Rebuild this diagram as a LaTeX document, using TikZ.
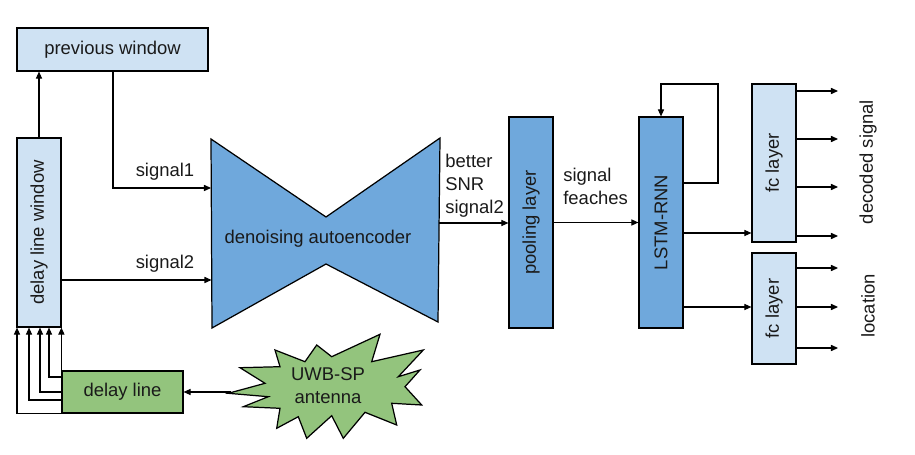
\documentclass[tikz,border=0pt]{standalone}
\usepackage{fontspec}
\setmainfont{Liberation Sans}
\usetikzlibrary{arrows.meta,calc}
\definecolor{lblue}{HTML}{CFE2F3}
\definecolor{mblue}{HTML}{6FA8DC}
\definecolor{lgreen}{HTML}{93C47D}
\definecolor{txt}{HTML}{1A1A1A}
\begin{document}
\begin{tikzpicture}[x=0.02cm,y=-0.02cm,
  font=\fontsize{10.5}{13}\selectfont, text=txt,
  box/.style={draw=black, line width=0.7pt, inner sep=0pt, align=center},
  arr/.style={line width=0.6pt, -{Triangle[length=4pt,width=3.5pt]}},
  lbl/.style={inner sep=0pt, align=left}]
\useasboundingbox (0,0) rectangle (915,455);

% boxes
\node[box, fill=lblue, minimum width=3.82cm, minimum height=0.86cm] (pw) at (112.5,49.5) {previous window};
\node[box, fill=lblue, minimum width=0.88cm, minimum height=3.78cm] (dlw) at (39,232.5) {\rotatebox{90}{delay line window}};
\node[box, fill=lgreen, minimum width=2.42cm, minimum height=0.84cm] (dl) at (122.5,392) {delay line};
\node[box, fill=mblue, minimum width=0.88cm, minimum height=4.22cm] (pool) at (531,222.5) {\rotatebox{90}{pooling layer}};
\node[box, fill=mblue, minimum width=0.88cm, minimum height=4.22cm] (lstm) at (661,222.5) {\rotatebox{90}{LSTM-RNN}};
\node[box, fill=lblue, minimum width=0.88cm, minimum height=3.16cm] (fc1) at (774,163) {\rotatebox{90}{fc layer}};
\node[box, fill=lblue, minimum width=0.88cm, minimum height=2.22cm] (fc2) at (774,308.5) {\rotatebox{90}{fc layer}};

% autoencoder bow-tie
\draw[fill=mblue, line width=0.7pt] (211,139) -- (326,217) -- (440,138) -- (438,322) -- (326,264) -- (212,328) -- cycle;
\node (ae) at (318,239) {denoising autoencoder};
\coordinate (ae1) at (211,188);
\coordinate (ae2) at (211.5,280);
\coordinate (aeo) at (439,223);

% antenna starburst
\draw[fill=lgreen, line width=0.7pt]
  (228.3,393.3) -- (265,383.3) -- (240,367.7) -- (280,366.7) -- (275,350) -- (305,361.7)
  -- (316.7,345) -- (331.7,356.7) -- (380,334.3) -- (371.7,361.7) -- (423.3,350)
  -- (398.3,376.7) -- (420,370) -- (405,386.7) -- (421.7,405) -- (391.7,403.3)
  -- (396.7,425) -- (365,412.3) -- (343.3,438.3) -- (331.7,415.7) -- (306.7,438.3)
  -- (298.3,416.7) -- (276.7,428.3) -- (280,408.3) -- (243.3,406.7) -- (268.3,396.7) -- cycle;
\node[align=center] (ant) at (328,386) {UWB-SP\\antenna};
\coordinate (antl) at (231,392);

% connectors
\draw[arr] (antl) -- (dl.east |- antl);
\draw[arr] (dl.south west) -| (17,0 |- dlw.south);
\draw[arr] (dl.west |- 0,400) -| (29,0 |- dlw.south);
\draw[arr] (dl.west |- 0,392) -| (40,0 |- dlw.south);
\draw[arr] (dl.west |- 0,377) -| (49,0 |- dlw.south);
\draw[arr] (dl.north west) -- (dl.north west |- dlw.south);
\draw[arr] (dlw.north) -- (dlw.north |- pw.south);
\draw[arr] (113,0 |- pw.south) |- (ae1);
\draw[arr] (dlw.east |- ae2) -- (ae2);
\draw[arr] (aeo) -- (pool.west |- aeo);
\draw[arr] (pool.east) -- (lstm.west);
\draw[arr] (lstm.east |- 0,183) -| (718,84) -| (lstm.north);
\draw[arr] (lstm.east |- 0,233) -- (fc1.west |- 0,233);
\draw[arr] (lstm.east |- 0,307) -- (fc2.west |- 0,307);
\foreach \y in {91,139,187,236} \draw[arr] (fc1.east |- 0,\y) -- (838,\y);
\foreach \y in {268,307,348} \draw[arr] (fc2.east |- 0,\y) -- (838,\y);

% labels
\node (s1) at (165,172) {signal1};
\node (s2) at (165,264) {signal2};
\node[lbl, anchor=west] (snr) at (445,186) {better\\SNR\\signal2};
\node[lbl, anchor=west] (feat) at (563,186) {signal\\feaches};
\node[rotate=90] (dec) at (868,162) {decoded signal};
\node[rotate=90] (loc) at (868,306) {location};
\end{tikzpicture}
\end{document}
